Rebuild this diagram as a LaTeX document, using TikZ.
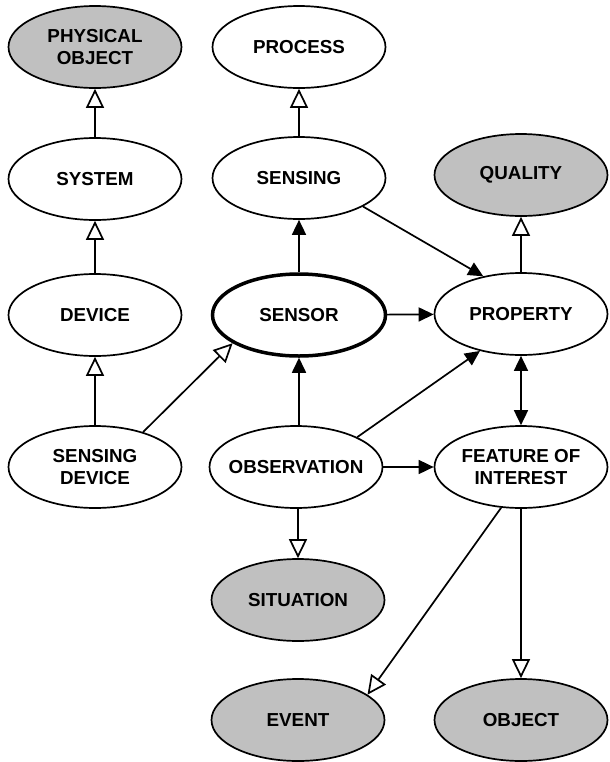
\documentclass[tikz,border=0pt]{standalone}
\usepackage{fontspec}
\setmainfont{Liberation Sans}
\usetikzlibrary{shapes.geometric, arrows.meta}
\definecolor{extgray}{RGB}{192,192,192}

\begin{document}
\begin{tikzpicture}[x=0.5pt, y=-0.5pt,
    concept/.style={ellipse, draw, line width=0.85pt, fill=white, minimum width=86.5pt, minimum height=41pt, inner xsep=-4pt, inner ysep=0pt, align=center, font=\bfseries\fontsize{9.4}{10.8}\selectfont},
    ext/.style={concept, fill=extgray},
    isa/.style={line width=0.85pt, -{Triangle[open, length=9.5pt, width=9pt, fill=white]}},
    rel/.style={line width=0.85pt, -{Triangle[length=7.5pt, width=7pt]}},
    relboth/.style={line width=0.85pt, {Triangle[length=7.5pt, width=7pt]}-{Triangle[length=7.5pt, width=7pt]}}]
                    \useasboundingbox (0, 0) rectangle (610, 762);

                    \node [ext] (physobj) at (95, 47) {PHYSICAL\\OBJECT};
                    \node [concept] (process) at (299, 47) {PROCESS};
                    \node [concept] (system) at (95, 179) {SYSTEM};
                    \node [concept] (sensing) at (299, 178) {SENSING};
                    \node [ext] (quality) at (521, 175) {QUALITY};
                    \node [concept] (device) at (95, 315) {DEVICE};
                    \node [concept, line width=1.75pt] (sensor) at (299, 315) {SENSOR};
                    \node [concept] (property) at (521, 314) {PROPERTY};
                    \node [concept] (sensdev) at (95, 467) {SENSING\\DEVICE};
                    \node [concept] (observation) at (296, 467) {OBSERVATION};
                    \node [concept] (foi) at (521, 467) {FEATURE OF\\INTEREST};
                    \node [ext] (situation) at (298, 600) {SITUATION};
                    \node [ext] (event) at (298, 720) {EVENT};
                    \node [ext] (object) at (521, 720) {OBJECT};

                    \draw [isa] (system) -- (physobj);
                    \draw [isa] (sensing) -- (process);
                    \draw [isa] (device) -- (system);
                    \draw [isa] (sensdev) -- (device);
                    \draw [isa] (sensdev.36) -- (sensor.203);
                    \draw [isa] (property) -- (quality);
                    \draw [isa] (observation.south -| situation) -- (situation);
                    \draw [isa] (foi.244) -- (event.20);
                    \draw [isa] (foi) -- (object);

                    \draw [rel] (sensor) -- (sensing);
                    \draw [rel] (sensing.336) -- (property.135);
                    \draw [rel] (sensor) -- (property);
                    \draw [rel] (observation.north -| sensor) -- (sensor);
                    \draw [rel] (observation.26) -- (property.222);
                    \draw [rel] (observation) -- (foi);
                    \draw [relboth] (property) -- (foi);
\end{tikzpicture}
\end{document}
